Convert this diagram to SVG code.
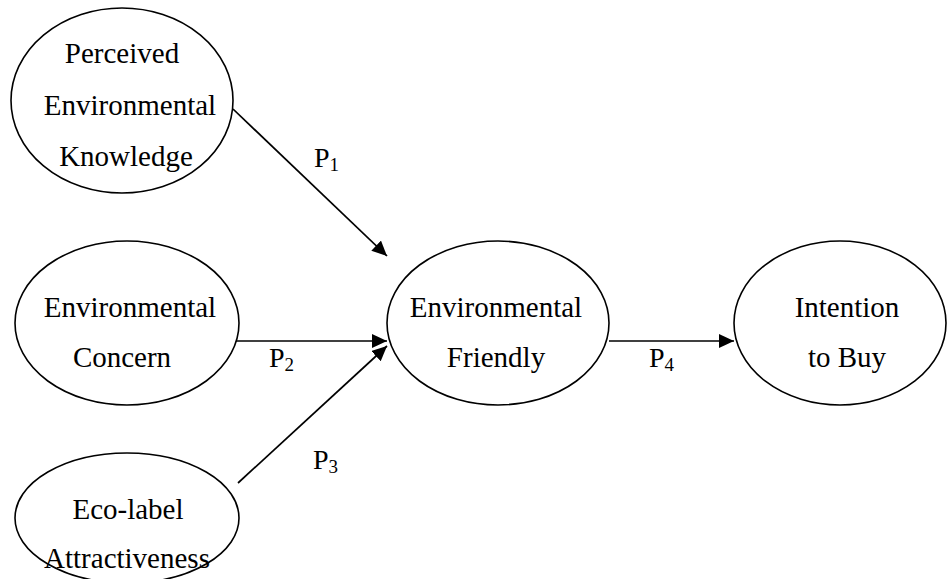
<svg xmlns="http://www.w3.org/2000/svg" width="948" height="579" viewBox="0 0 948 579">
<style>
.node ellipse{fill:#fff;stroke:#000;stroke-width:1.6}
text{font-family:"Liberation Serif","Times New Roman",serif;font-size:29px;fill:#000;text-anchor:middle}
.lbl{font-size:28px;text-anchor:start}
.sub{font-size:19px}
.conn line{stroke:#000;stroke-width:1.7;fill:none}
</style>
<defs>
<marker id="ah" markerUnits="userSpaceOnUse" markerWidth="16" markerHeight="16" refX="15" refY="7" orient="auto">
<path d="M0,0 L15,7 L0,14 Z" fill="#000"/>
</marker>
</defs>
<rect width="948" height="579" fill="#fff"/>
<g class="conn" id="connectors">
<line x1="233" y1="109" x2="387" y2="256" marker-end="url(#ah)"/>
<line x1="233" y1="341" x2="387" y2="341" marker-end="url(#ah)"/>
<line x1="238" y1="483" x2="387" y2="346" marker-end="url(#ah)"/>
<line x1="609" y1="341" x2="734" y2="341" marker-end="url(#ah)"/>
<text class="lbl" x="314" y="167">P<tspan class="sub" dy="4">1</tspan></text>
<text class="lbl" x="269" y="367">P<tspan class="sub" dy="4">2</tspan></text>
<text class="lbl" x="313" y="469">P<tspan class="sub" dy="4">3</tspan></text>
<text class="lbl" x="649" y="367">P<tspan class="sub" dy="4">4</tspan></text>
</g>
<g class="node" id="pek">
<ellipse cx="122" cy="100.5" rx="111" ry="92.5"/>
<text x="122" y="63">Perceived</text>
<text x="130" y="115">Environmental</text>
<text x="126" y="166">Knowledge</text>
</g>
<g class="node" id="ec">
<ellipse cx="127" cy="323" rx="112" ry="82"/>
<text x="130" y="317">Environmental</text>
<text x="122" y="367">Concern</text>
</g>
<g class="node" id="ela">
<ellipse cx="127" cy="518" rx="112" ry="65"/>
<text x="128" y="519">Eco-label</text>
<text x="127" y="568">Attractiveness</text>
</g>
<g class="node" id="ef">
<ellipse cx="498" cy="323" rx="111" ry="82"/>
<text x="496" y="317">Environmental</text>
<text x="496" y="367">Friendly</text>
</g>
<g class="node" id="itb">
<ellipse cx="840" cy="323" rx="106" ry="82"/>
<text x="847" y="317">Intention</text>
<text x="847" y="367">to Buy</text>
</g>
</svg>
